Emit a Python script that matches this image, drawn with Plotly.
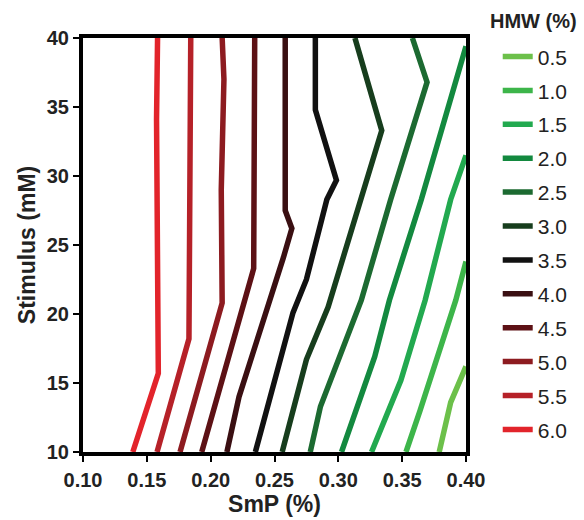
import plotly.graph_objects as go

# HMW (%) contour levels and colours (legend order)
levels = ["0.5", "1.0", "1.5", "2.0", "2.5", "3.0", "3.5", "4.0", "4.5", "5.0", "5.5", "6.0"]
colors = ["#6cc04a", "#3db54a", "#22a94f", "#13893f", "#1c6a31", "#173d1d",
          "#111111", "#3a0f12", "#5d1115", "#8d1b20", "#b62128", "#e2242b"]

# contour polylines: SmP (%) vs Stimulus (mM)
smp_05 = [0.379, 0.388, 0.400]
stim_05 = [10, 13.6, 16.2]
smp_10 = [0.353, 0.364, 0.392, 0.400]
stim_10 = [10, 13.0, 21.0, 23.8]
smp_15 = [0.326, 0.349, 0.368, 0.388, 0.400]
stim_15 = [10, 15.2, 21.0, 28.3, 31.5]
smp_20 = [0.3025, 0.3285, 0.340, 0.365, 0.400]
stim_20 = [10, 16.9, 21.0, 28.3, 39.4]
smp_25 = [0.278, 0.286, 0.318, 0.341, 0.3695, 0.358]
stim_25 = [10, 13.3, 21.0, 28.3, 36.8, 40]
smp_30 = [0.256, 0.275, 0.292, 0.318, 0.334, 0.313]
stim_30 = [10, 16.7, 20.5, 28.3, 33.3, 40]
smp_35 = [0.235, 0.2645, 0.275, 0.291, 0.2985, 0.282, 0.282]
stim_35 = [10, 20.1, 22.5, 28.3, 29.7, 34.8, 40]
smp_40 = [0.2127, 0.2222, 0.257, 0.2636, 0.2584, 0.2584]
stim_40 = [10, 14.0, 24.1, 26.2, 27.5, 40]
smp_45 = [0.193, 0.2337, 0.2345]
stim_45 = [10, 23.3, 40]
smp_50 = [0.176, 0.209, 0.2083, 0.2104, 0.209]
stim_50 = [10, 20.8, 29.0, 37.0, 40]
smp_55 = [0.158, 0.183, 0.1844]
stim_55 = [10, 18.2, 40]
smp_60 = [0.139, 0.159, 0.1576, 0.1584]
stim_60 = [10, 15.7, 34.1, 40]

smp_lines = [smp_05, smp_10, smp_15, smp_20, smp_25, smp_30,
             smp_35, smp_40, smp_45, smp_50, smp_55, smp_60]
stim_lines = [stim_05, stim_10, stim_15, stim_20, stim_25, stim_30,
              stim_35, stim_40, stim_45, stim_50, stim_55, stim_60]

x_ticks = [0.10, 0.15, 0.20, 0.25, 0.30, 0.35, 0.40]
y_ticks = [10, 15, 20, 25, 30, 35, 40]

FONT = "Arial, Liberation Sans, Helvetica, sans-serif"

fig = go.Figure()
for lev, col, xs, ys in zip(levels, colors, smp_lines, stim_lines):
    fig.add_trace(go.Scatter(
        x=xs, y=ys, mode="lines", name=lev, legendgroup=lev,
        line=dict(color=col, width=5.5),
    ))

axis_common = dict(
    showline=True, linecolor="black", linewidth=4, mirror=True,
    ticks="outside", ticklen=6, tickwidth=1.5, tickcolor="black",
    showgrid=False, zeroline=False, automargin=False,
    tickfont=dict(family=FONT, size=20, color="#222222", weight="bold"),
)

fig.update_layout(
    width=584, height=520,
    margin=dict(l=83, r=117, t=38, b=68),
    paper_bgcolor="white", plot_bgcolor="white",
    xaxis=dict(range=[0.10, 0.40], tickvals=x_ticks, tickformat=".2f",
               ticklabelstandoff=1,
               title=dict(text="SmP (%)", standoff=4,
                          font=dict(family=FONT, size=23, color="#222222", weight="bold")),
               **axis_common),
    yaxis=dict(range=[10, 40], tickvals=y_ticks,
               title=dict(text="Stimulus (mM)", standoff=6,
                          font=dict(family=FONT, size=23, color="#222222", weight="bold")),
               **axis_common),
    legend=dict(
        x=1.08, xanchor="left", y=1.004, yanchor="top",
        font=dict(family=FONT, size=21, color="#222222"),
        tracegroupgap=3.6, maxheight=1.0,
        bgcolor="rgba(0,0,0,0)",
    ),
    showlegend=True,
    annotations=[dict(
        text="<b>HMW (%)</b>", xref="paper", yref="paper",
        x=1.175, y=1.041, xanchor="center", yanchor="middle", showarrow=False,
        font=dict(family=FONT, size=20, color="#222222"),
    )],
)

fig.write_html("out.html")
